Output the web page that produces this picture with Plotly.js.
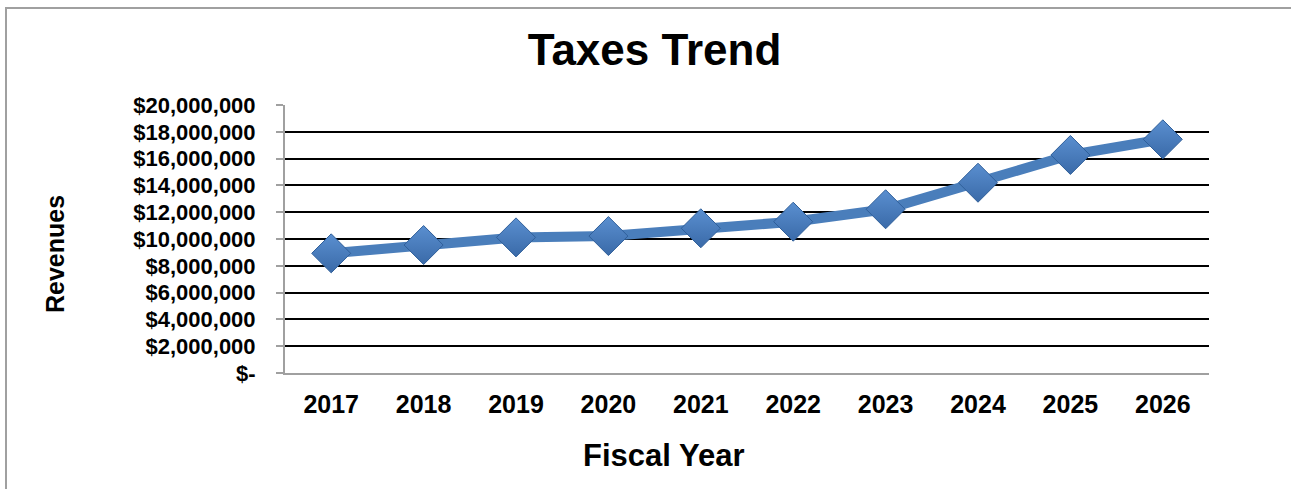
<!DOCTYPE html>
<html>
<head>
<meta charset="utf-8">
<script src="https://cdn.plot.ly/plotly-3.0.1.min.js"></script>
<style>
  html, body { margin: 0; padding: 0; overflow: hidden; background: #fff; }
  #chart { width: 1291px; height: 489px; }
  #frame { position: absolute; left: 5px; top: 7px; width: 1400px; height: 600px;
           border: 2px solid #a0a0a0; pointer-events: none; }
</style>
</head>
<body>
<div id="chart"></div>
<div id="frame"></div>
<script>
const years = ['2017','2018','2019','2020','2021','2022','2023','2024','2025','2026'];
const revenues = [8930000, 9550000, 10120000, 10220000, 10800000, 11290000, 12220000, 14200000, 16270000, 17440000];
const yTickVals = [0, 2000000, 4000000, 6000000, 8000000, 10000000, 12000000, 14000000, 16000000, 18000000, 20000000];
const yTickText = ['$-', '$2,000,000', '$4,000,000', '$6,000,000', '$8,000,000', '$10,000,000', '$12,000,000', '$14,000,000', '$16,000,000', '$18,000,000', '$20,000,000'];
const chartTitle = 'Taxes Trend';
const xTitle = 'Fiscal Year';
const yTitle = 'Revenues';

const font = 'Liberation Sans, Arial, sans-serif';

const trace = {
  type: 'scatter',
  mode: 'lines+markers',
  x: years,
  y: revenues,
  line: { color: '#4a7ebb', width: 10 },
  marker: { symbol: 'diamond', size: 30, color: '#5a8fd0',
            gradient: { type: 'vertical', color: '#3a6aa8' },
            line: { color: '#2f5f9a', width: 1 } },
  hoverinfo: 'x+y'
};

const layout = {
  width: 1291, height: 489,
  margin: { l: 285, r: 82, t: 105, b: 116 },
  paper_bgcolor: '#fff', plot_bgcolor: '#fff',
  showlegend: false,
  font: { family: font, color: '#000' },
  title: { text: '<b>' + chartTitle + '</b>', font: { size: 44, family: font, color: '#000' },
           x: 0.507, xanchor: 'center', y: 1 - 50/489, yanchor: 'middle', yref: 'container' },
  xaxis: {
    type: 'category',
    range: [-0.5, 9.5],
    showgrid: false, zeroline: false,
    showline: true, linecolor: '#a0a0a0', linewidth: 2,
    ticks: '',
    ticklabelstandoff: 8,
    tickfont: { size: 25, family: font, color: '#000', weight: 'bold' }
  },
  yaxis: {
    range: [0, 20000000],
    tickvals: yTickVals, ticktext: yTickText,
    showgrid: true, gridcolor: '#000', gridwidth: 2,
    zeroline: false,
    showline: true, linecolor: '#a0a0a0', linewidth: 2,
    ticks: 'outside', ticklen: 7, tickcolor: '#a0a0a0', tickwidth: 2,
    ticklabelstandoff: 16,
    tickfont: { size: 22, family: font, color: '#000', weight: 'bold' }
  },
  annotations: [
    { text: '<b>' + xTitle + '</b>', xref: 'paper', yref: 'paper',
      x: (663 - 285) / 924, y: -(455 - 373) / 268, xanchor: 'center', yanchor: 'middle',
      showarrow: false, font: { size: 31, family: font, color: '#000' } },
    { text: '<b>' + yTitle + '</b>', xref: 'paper', yref: 'paper',
      x: -(285 - 55) / 924, y: (373 - 254) / 268, xanchor: 'center', yanchor: 'middle',
      textangle: -90, showarrow: false, font: { size: 25, family: font, color: '#000' } }
  ]
};

Plotly.newPlot('chart', [trace], layout, { displayModeBar: false });
</script>
</body>
</html>
